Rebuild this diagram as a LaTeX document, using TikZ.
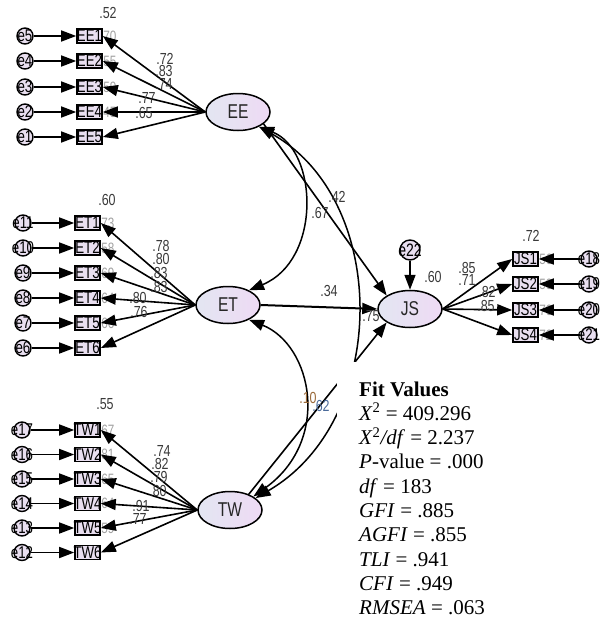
\documentclass[tikz,border=0pt]{standalone}
\usepackage{fontspec}
\setmainfont{Liberation Serif}
\newfontfamily\amos[FakeStretch=0.78]{Liberation Sans}
\usetikzlibrary{arrows.meta,shapes.geometric}
\definecolor{boxfill}{HTML}{E9DFF0}
\definecolor{ellL}{HTML}{E3E6F2}
\definecolor{ellR}{HTML}{EEDAF4}
\definecolor{lbl}{HTML}{3A3A3A}
\definecolor{faint}{HTML}{A0A0A0}
\definecolor{brn}{HTML}{9A6A3A}
\definecolor{blu}{HTML}{4A6A9A}
\tikzset{
  latent/.style={ellipse, draw, line width=1.5pt, minimum width=64pt, minimum height=37pt,
    inner sep=0pt, left color=ellL, right color=ellR, text=black!85,
    font=\amos\fontsize{20}{20}\selectfont},
  obs/.style={rectangle, draw, line width=1.6pt, minimum width=25pt, minimum height=14pt,
    inner sep=0pt, fill=boxfill, font=\amos\fontsize{17}{17}\selectfont},
  err/.style={circle, draw, line width=1.4pt, minimum size=16pt, inner sep=0pt,
    fill=boxfill, font=\amos\fontsize{17}{17}\selectfont},
  coef/.style={font=\amos\fontsize{16}{16}\selectfont, text=lbl, inner sep=0pt},
  rsq/.style={font=\amos\fontsize{15}{15}\selectfont, text=faint, inner sep=0pt, anchor=west},
  arr/.style={line width=1.6pt, -{Triangle[length=15pt,width=11pt]}},
  dblarr/.style={line width=1.5pt, {Triangle[length=15pt,width=11pt]}-{Triangle[length=15pt,width=11pt]}},
  fitline/.style={anchor=base west, inner sep=0pt, font=\fontsize{21}{24}\selectfont},
}
\begin{document}
\begin{tikzpicture}[x=1pt,y=-1pt]
\useasboundingbox (0,0) rectangle (603,618);
% faint squared multiple correlations, partly hidden
\foreach \y/\v [count=\i] in {36/.70,61/.55,87/.59,112/.45}
  \node[rsq] (ree\i) at (100,\y) {\v};
\foreach \y/\v [count=\i] in {223/.73,248/.58,273/.69,298/.64,323/.66}
  \node[rsq] (ret\i) at (98,\y) {\v};
\foreach \y/\v [count=\i] in {430/.67,454.5/.81,479/.65,503.5/.64,528/.59}
  \node[rsq] (rtw\i) at (98,\y) {\v};
\foreach \y/\v [count=\i] in {259/.56,284/.50,310/.70,335/.72}
  \node[rsq] (rjs\i) at (536,\y) {\v};

% latent variables
\node[latent] (EE) at (238,112) {EE};
\node[latent] (ET) at (228,305) {ET};
\node[latent] (TW) at (230,510) {TW};
\node[latent] (JS) at (410,309) {JS};

% EE indicators
\foreach \y/\b/\e in {36/1/5,61/2/4,87/3/3,112/4/2,137/5/1}{
  \node[obs] (eeb\b) at (89.5,\y) {\makebox[0pt]{EE\b}};
  \node[err] (eee\b) at (25,\y) {\makebox[0pt]{e\e}};
  \draw[arr] (eee\b) -- (eeb\b);
  \draw[arr] (EE.west) -- (eeb\b.east);
}
% ET indicators
\foreach \y/\b/\e in {223/1/11,248/2/10,273/3/9,298/4/8,323/5/7,348/6/6}{
  \node[obs] (etb\b) at (87.5,\y) {\makebox[0pt]{ET\b}};
  \node[err] (ete\b) at (23,\y) {\makebox[0pt]{e\e}};
  \draw[arr] (ete\b) -- (etb\b);
  \draw[arr] (ET.west) -- (etb\b.east);
}
% TW indicators
\foreach \y/\b/\e in {430/1/17,454.5/2/16,479/3/15,503.5/4/14,528/5/13,552.5/6/12}{
  \node[obs] (twb\b) at (87.5,\y) {\makebox[0pt]{TW\b}};
  \node[err] (twe\b) at (22,\y) {\makebox[0pt]{e\e}};
  \draw[arr] (twe\b) -- (twb\b);
  \draw[arr] (TW.west) -- (twb\b.east);
}
% JS indicators
\foreach \y/\b/\e in {259/1/18,284/2/19,310/3/20,335/4/21}{
  \node[obs] (jsb\b) at (525.5,\y) {\makebox[0pt]{JS\b}};
  \node[err] (jse\b) at (589,\y) {\makebox[0pt]{e\e}};
  \draw[arr] (jse\b) -- (jsb\b);
  \draw[arr] (JS.east) -- (jsb\b.west);
}
% structural error
\node[err, minimum size=20pt, font=\amos\fontsize{18}{18}\selectfont] (e22) at (410,250) {\makebox[0pt]{e22}};
\draw[arr] (e22) -- (JS.north);

% covariances
\draw[dblarr] (EE.-35) .. controls (318,150) and (322,260) .. (ET.35);
\draw[dblarr] (EE.-35) .. controls (390,200) and (390,420) .. (TW.25);
\draw[dblarr] (ET.-35) .. controls (312,345) and (332,440) .. (TW.30);
% structural paths
\draw[arr] (EE.-25) -- (JS.150);
\draw[arr, line width=2pt] (ET.east) -- (JS.west);
\draw[arr] (TW.40) -- (JS.210);

% coefficient labels
\node[coef] (lee0) at (108,13) {.52};
\node[coef] (lee1) at (165,59) {.72};
\node[coef] (lee2) at (164,71) {.83};
\node[coef] (lee3) at (164,84) {.74};
\node[coef] (lee4) at (147,98) {.77};
\node[coef] (lee5) at (144,113) {.65};
\node[coef] (let0) at (107,200) {.60};
\node[coef] (let1) at (161,246) {.78};
\node[coef] (let2) at (161,259) {.80};
\node[coef] (let3) at (159,273) {.83};
\node[coef] (let4) at (159,287) {.83};
\node[coef] (let5) at (138,298) {.80};
\node[coef] (let6) at (139,312) {.76};
\node[coef] (ltw0) at (105,404) {.55};
\node[coef] (ltw1) at (162,451) {.74};
\node[coef] (ltw2) at (160,464) {.82};
\node[coef] (ltw3) at (159,477) {.79};
\node[coef] (ltw4) at (158,491) {.80};
\node[coef] (ltw5) at (141,506) {.91};
\node[coef] (ltw6) at (138,519) {.77};
\node[coef] (ljs0) at (531,236) {.72};
\node[coef] (ljs1) at (467,268) {.85};
\node[coef] (ljs2) at (467,280) {.71};
\node[coef] (ljs3) at (487,292) {.82};
\node[coef] (ljs4) at (486,306) {.85};
\node[coef] (lr2) at (433,277) {.60};
\node[coef] (lp1) at (320,213) {.67};
\node[coef] (lp2) at (337,197) {.42};
\node[coef] (lp3) at (329,291) {.34};
\node[coef] (lp4) at (371,316) {.75};
\node[coef, text=brn] (lp5) at (308,398) {.10};
\node[coef, text=blu] (lp6) at (321,406) {.62};

% fit values panel
\fill[white] (337,362) rectangle (603,618);
\node[fitline] (f0) at (359,396) {\textbf{Fit Values}};
\node[fitline] (f1) at (359,420.3) {\textit{X}\textsuperscript{2} = 409.296};
\node[fitline] (f2) at (359,444.6) {\textit{X}\textsuperscript{2}\textit{/df} = 2.237};
\node[fitline] (f3) at (359,468.9) {\textit{P}-value = .000};
\node[fitline] (f4) at (359,493.2) {\textit{df} = 183};
\node[fitline] (f5) at (359,517.5) {\textit{GFI} = .885};
\node[fitline] (f6) at (359,541.8) {\textit{AGFI} = .855};
\node[fitline] (f7) at (359,566.1) {\textit{TLI} = .941};
\node[fitline] (f8) at (359,590.4) {\textit{CFI} = .949};
\node[fitline] (f9) at (359,614.7) {\textit{RMSEA} = .063};
\end{tikzpicture}
\end{document}
